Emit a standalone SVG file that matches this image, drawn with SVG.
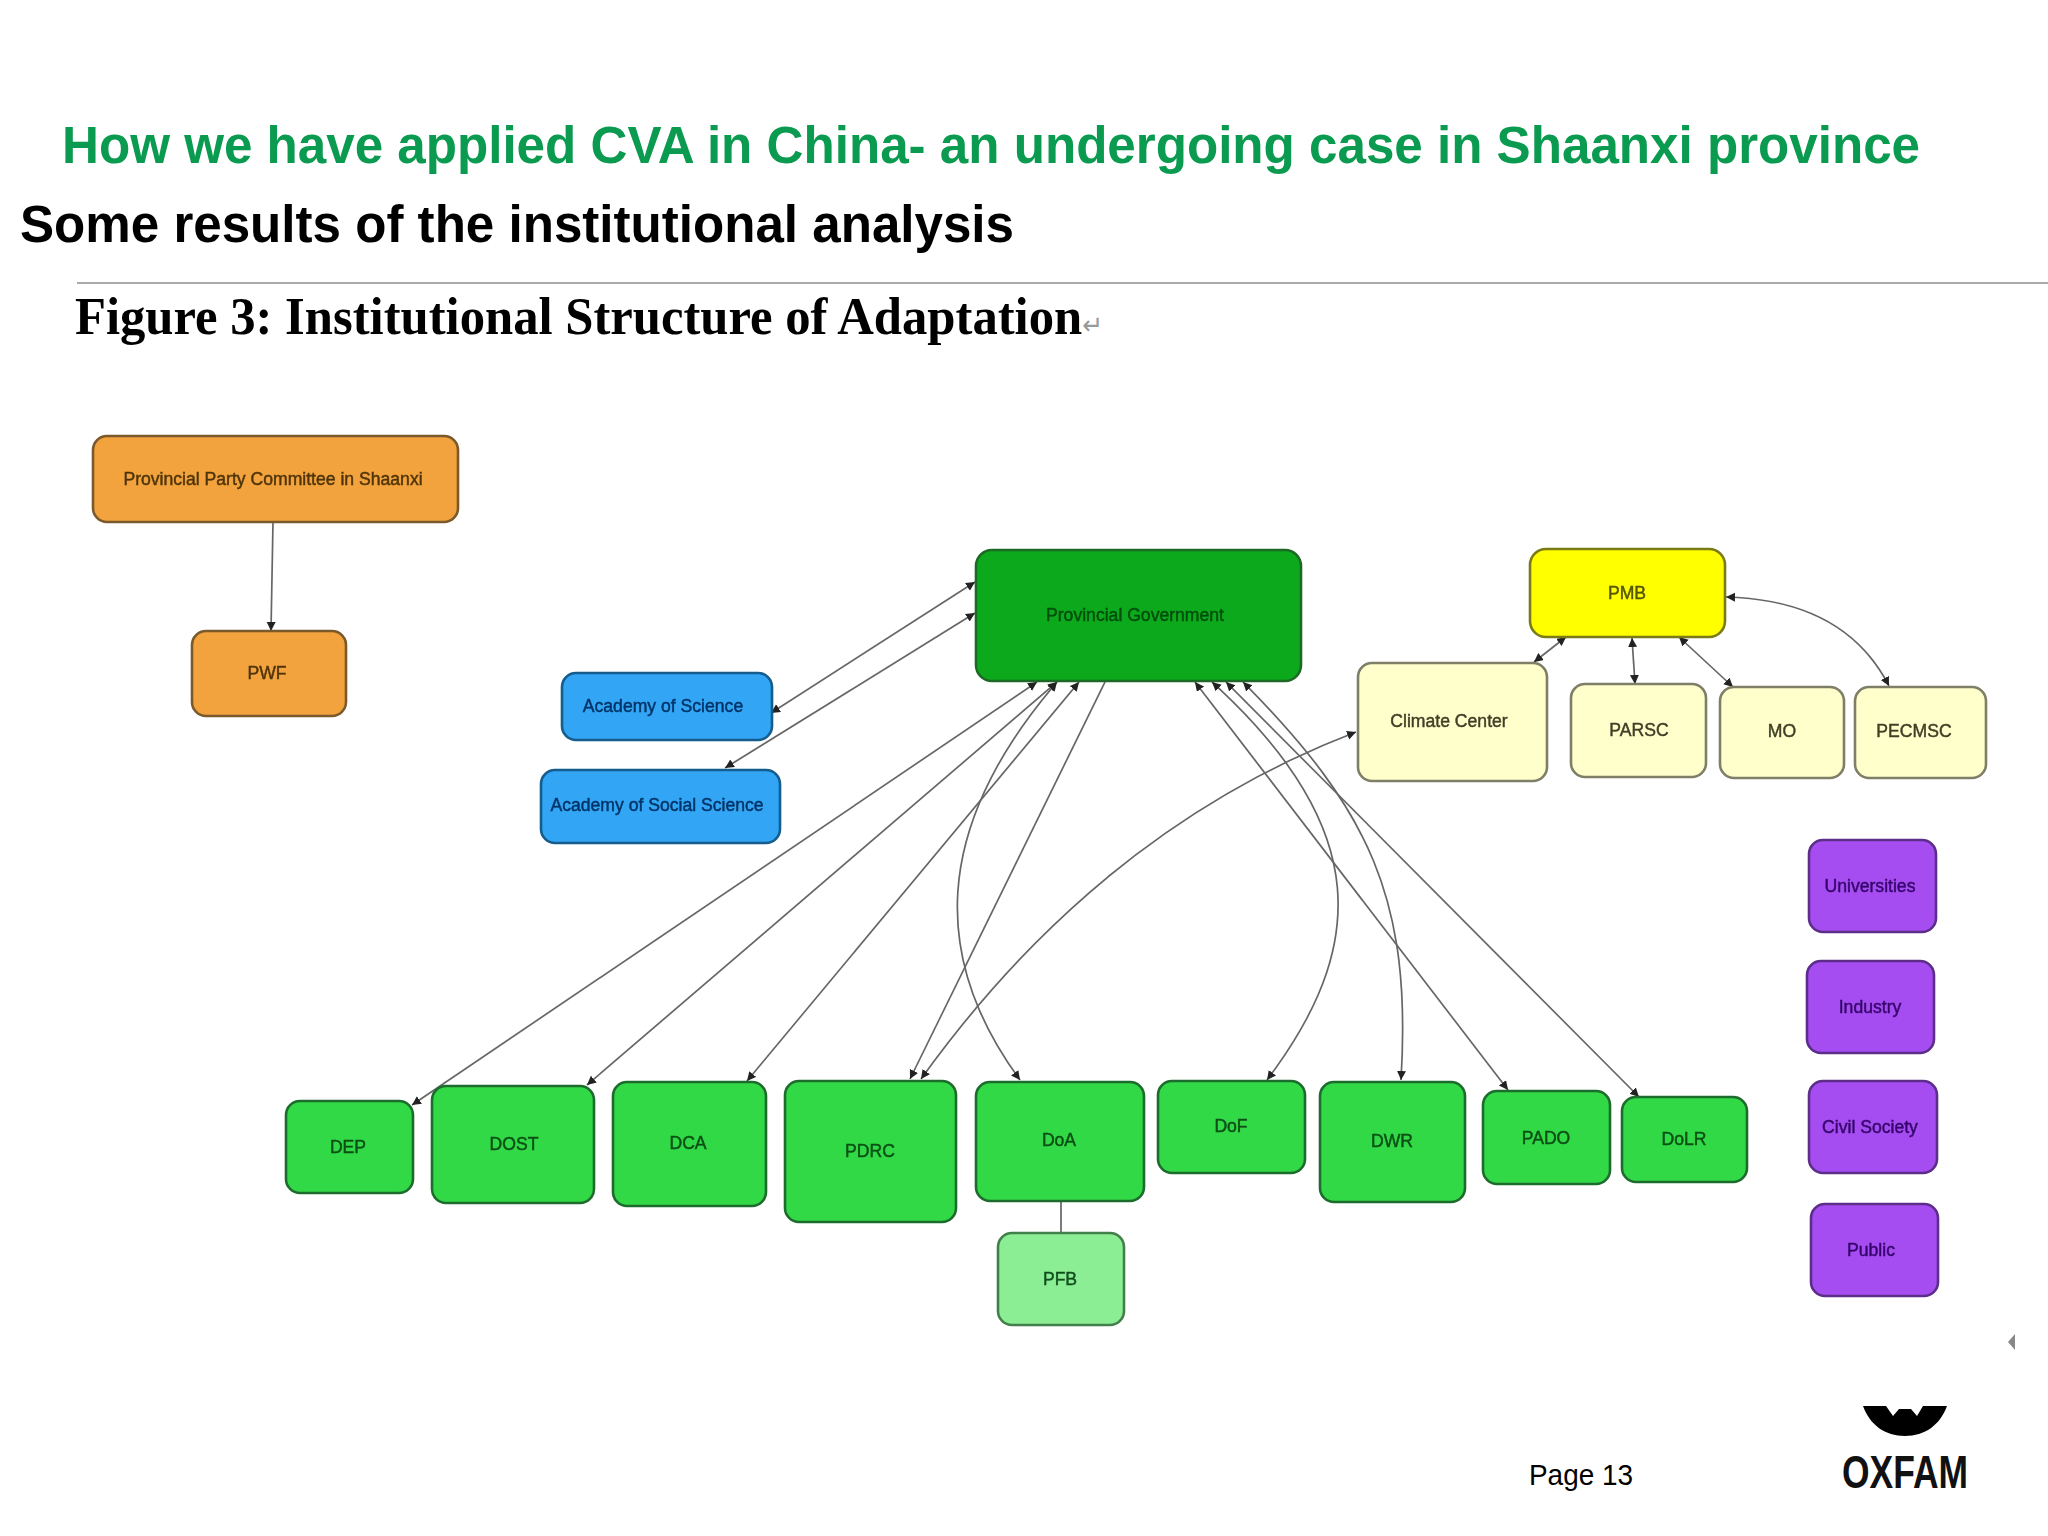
<svg xmlns="http://www.w3.org/2000/svg" width="2048" height="1536" viewBox="0 0 2048 1536">
<style>
.b{stroke-width:2.6}
.l{font-family:"Liberation Sans",Arial,sans-serif;font-size:17.6px;text-anchor:middle;dominant-baseline:central;transform:translate(1px,1px);stroke-width:.45px}
.or rect{fill:#f2a33c;stroke:#7a5a2c}.or text{fill:#4f3408;stroke:#4f3408}
.gv rect{fill:#0ea91c;stroke:#1f6a26}.gv text{fill:#034f0a;stroke:#034f0a}
.bl rect{fill:#33a6f5;stroke:#125c8c}.bl text{fill:#013468;stroke:#013468}
.ye rect{fill:#ffff00;stroke:#7a7a14}.ye text{fill:#555500;stroke:#555500}
.cr rect{fill:#ffffcc;stroke:#7f7f68}.cr text{fill:#3f3f28;stroke:#3f3f28}
.gr rect{fill:#33d946;stroke:#1f6c2e}.gr text{fill:#084f15;stroke:#084f15}
.lg rect{fill:#8cee94;stroke:#43804c}.lg text{fill:#124f1e;stroke:#124f1e}
.pu rect{fill:#a64df2;stroke:#5c2e8a}.pu text{fill:#36066c;stroke:#36066c}
#connectors path{fill:none;stroke:#666;stroke-width:1.7}
.a{marker-end:url(#ah)}.d{marker-start:url(#ah);marker-end:url(#ah)}
</style>
<defs>
<marker id="ah" markerUnits="userSpaceOnUse" markerWidth="11" markerHeight="10" refX="9" refY="4.5" orient="auto-start-reverse"><path d="M0,0L9,4.5L0,9z" fill="#222"/></marker>
<filter id="soft" x="-2%" y="-2%" width="104%" height="104%"><feGaussianBlur stdDeviation="0.5"/></filter>
</defs>
<rect width="2048" height="1536" fill="#fff"/>
<text x="62" y="163" font-family="Liberation Sans,Arial,sans-serif" font-weight="700" font-size="51" fill="#0a9a50" textLength="1858" lengthAdjust="spacingAndGlyphs">How we have applied CVA in China- an undergoing case in Shaanxi province</text>
<text x="20" y="242" font-family="Liberation Sans,Arial,sans-serif" font-weight="700" font-size="51" fill="#000" textLength="994" lengthAdjust="spacingAndGlyphs">Some results of the institutional analysis</text>
<rect x="77" y="282" width="1971" height="2" fill="#aaa"/>
<text x="75" y="334" font-family="Liberation Serif,Times New Roman,serif" font-weight="700" font-size="53" fill="#000" textLength="1028" lengthAdjust="spacingAndGlyphs">Figure 3: Institutional Structure of Adaptation<tspan font-family="DejaVu Sans,sans-serif" font-weight="400" font-size="26" fill="#999">↵</tspan></text>
<g filter="url(#soft)">
<g id="connectors">
<path class="a" d="M273,522L271,631"/>
<path class="d" d="M771,713L975,582"/>
<path class="d" d="M725,768L975,613"/>
<path class="d" d="M412,1105L1037,682"/>
<path class="d" d="M587,1085L1057,682"/>
<path class="d" d="M747,1081L1079,682"/>
<path class="a" d="M1105,682L910,1079"/>
<path class="d" d="M921,1079Q1100,830 1356,732"/>
<path class="d" d="M1020,1080C932,960 930,830 1057,682"/>
<path class="d" d="M1508,1090L1195,682"/>
<path class="d" d="M1639,1097L1226,682"/>
<path class="d" d="M1267,1080C1365,950 1375,830 1212,682"/>
<path class="d" d="M1401,1080C1412,900 1370,810 1243,682"/>
<path d="M1061,1201V1233"/>
<path class="d" d="M1534,662L1566,637"/>
<path class="d" d="M1632,638L1635,684"/>
<path class="d" d="M1679,637L1733,687"/>
<path class="d" d="M1726,597Q1845,600 1889,686"/>
</g>
<g id="party" class="or"><rect class="b" x="93" y="436" width="365" height="86" rx="14"/><text class="l" x="272" y="478">Provincial Party Committee in Shaanxi</text></g>
<g id="pwf" class="or"><rect class="b" x="192" y="631" width="154" height="85" rx="14"/><text class="l" x="266" y="672">PWF</text></g>
<g id="gov" class="gv"><rect class="b" x="976" y="550" width="325" height="131" rx="16"/><text class="l" x="1134" y="614">Provincial Government</text></g>
<g id="science" class="bl"><rect class="b" x="562" y="673" width="210" height="67" rx="14"/><text class="l" x="662" y="705">Academy of Science</text></g>
<g id="social" class="bl"><rect class="b" x="541" y="770" width="239" height="73" rx="14"/><text class="l" x="656" y="804">Academy of Social Science</text></g>
<g id="pmb" class="ye"><rect class="b" x="1530" y="549" width="195" height="88" rx="16"/><text class="l" x="1626" y="592">PMB</text></g>
<g id="climate" class="cr"><rect class="b" x="1358" y="663" width="189" height="118" rx="14"/><text class="l" x="1448" y="720">Climate Center</text></g>
<g id="parsc" class="cr"><rect class="b" x="1571" y="684" width="135" height="93" rx="14"/><text class="l" x="1638" y="729">PARSC</text></g>
<g id="mo" class="cr"><rect class="b" x="1720" y="687" width="124" height="91" rx="14"/><text class="l" x="1781" y="730">MO</text></g>
<g id="pecmsc" class="cr"><rect class="b" x="1855" y="687" width="131" height="91" rx="14"/><text class="l" x="1913" y="730">PECMSC</text></g>
<g id="universities" class="pu"><rect class="b" x="1809" y="840" width="127" height="92" rx="14"/><text class="l" x="1869" y="885">Universities</text></g>
<g id="industry" class="pu"><rect class="b" x="1807" y="961" width="127" height="92" rx="14"/><text class="l" x="1869" y="1006">Industry</text></g>
<g id="civil" class="pu"><rect class="b" x="1809" y="1081" width="128" height="92" rx="14"/><text class="l" x="1869" y="1126">Civil Society</text></g>
<g id="public" class="pu"><rect class="b" x="1811" y="1204" width="127" height="92" rx="14"/><text class="l" x="1870" y="1249">Public</text></g>
<g id="dep" class="gr"><rect class="b" x="286" y="1101" width="127" height="92" rx="14"/><text class="l" x="347" y="1146">DEP</text></g>
<g id="dost" class="gr"><rect class="b" x="432" y="1086" width="162" height="117" rx="14"/><text class="l" x="513" y="1143">DOST</text></g>
<g id="dca" class="gr"><rect class="b" x="613" y="1082" width="153" height="124" rx="14"/><text class="l" x="687" y="1142">DCA</text></g>
<g id="pdrc" class="gr"><rect class="b" x="785" y="1081" width="171" height="141" rx="14"/><text class="l" x="869" y="1150">PDRC</text></g>
<g id="doa" class="gr"><rect class="b" x="976" y="1082" width="168" height="119" rx="14"/><text class="l" x="1058" y="1139">DoA</text></g>
<g id="pfb" class="lg"><rect class="b" x="998" y="1233" width="126" height="92" rx="14"/><text class="l" x="1059" y="1278">PFB</text></g>
<g id="dof" class="gr"><rect class="b" x="1158" y="1081" width="147" height="92" rx="14"/><text class="l" x="1230" y="1125">DoF</text></g>
<g id="dwr" class="gr"><rect class="b" x="1320" y="1082" width="145" height="120" rx="14"/><text class="l" x="1391" y="1140">DWR</text></g>
<g id="pado" class="gr"><rect class="b" x="1483" y="1091" width="127" height="93" rx="14"/><text class="l" x="1545" y="1137">PADO</text></g>
<g id="dolr" class="gr"><rect class="b" x="1622" y="1097" width="125" height="85" rx="14"/><text class="l" x="1683" y="1138">DoLR</text></g>
</g>
<path d="M2008,1342L2015,1334V1350z" fill="#888"/>
<text x="1529" y="1485" font-family="Liberation Sans,Arial,sans-serif" font-size="29" fill="#000" textLength="104" lengthAdjust="spacingAndGlyphs">Page 13</text>
<path d="M1863,1406H1886L1893,1416L1899,1409H1911L1917,1416L1923,1406H1947C1940,1425 1925,1436 1905,1436C1885,1436 1870,1425 1863,1406z" fill="#000"/>
<text x="1842" y="1488" font-family="Liberation Sans Narrow,Liberation Sans,sans-serif" font-weight="700" font-size="46" fill="#111" textLength="126" lengthAdjust="spacingAndGlyphs">OXFAM</text>
</svg>
